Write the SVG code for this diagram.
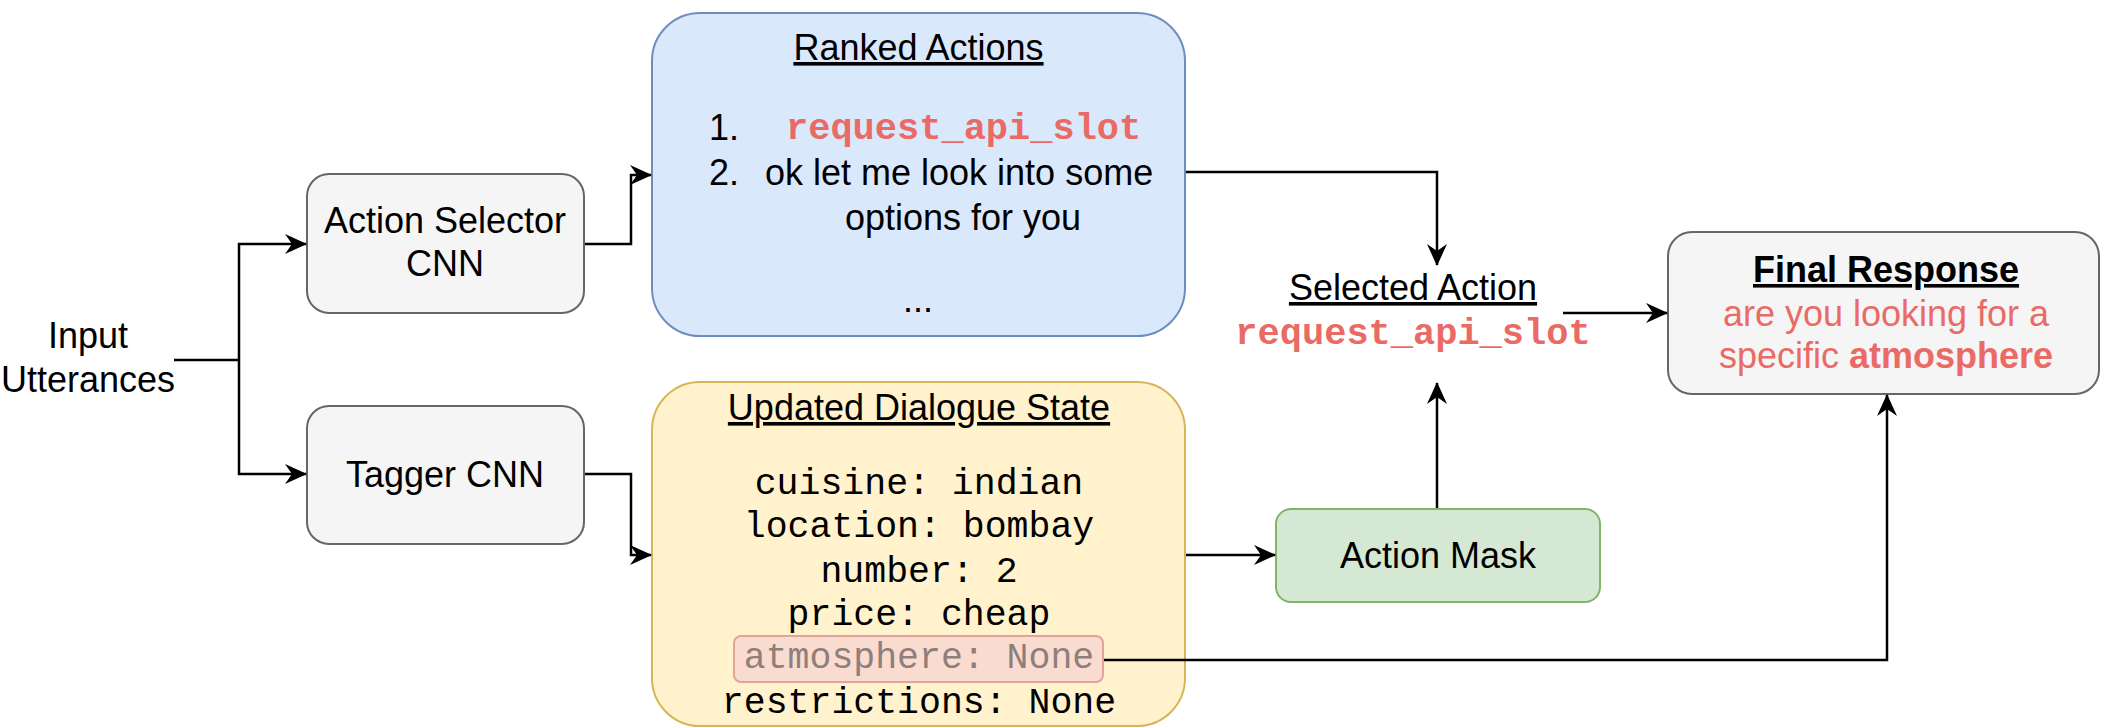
<svg xmlns="http://www.w3.org/2000/svg" width="2101" height="727" viewBox="0 0 2101 727">
  <style>
    .sans { font-family: "Liberation Sans", Arial, Helvetica, sans-serif; font-size: 36px; fill: #000; }
    .mono { font-family: "Liberation Mono", "Courier New", monospace; font-size: 36.5px; fill: #000; }
    .code { font-family: "Liberation Mono", "Courier New", monospace; font-size: 37px; font-weight: bold; fill: #EA6B66; }
    .red { fill: #EA6B66; }
    .mid { text-anchor: middle; }
    .ul { text-decoration: underline; }
    .grey { fill: #f5f5f5; stroke: #666666; stroke-width: 2; }
    .wire { fill: none; stroke: #000; stroke-width: 2.5; marker-end: url(#arrow); }
    .plain { fill: none; stroke: #000; stroke-width: 2.5; }
  </style>
  <defs>
    <marker id="arrow" viewBox="0 0 22 22" markerWidth="22" markerHeight="22" refX="21" refY="11" orient="auto" markerUnits="userSpaceOnUse">
      <path d="M0,1 L22,11 L0,21 L7,11 Z" fill="#000"/>
    </marker>
  </defs>

  <!-- input label -->
  <g id="input-utterances">
    <text class="sans mid" x="88" y="348">Input</text>
    <text class="sans mid" x="88" y="392">Utterances</text>
  </g>

  <g id="action-selector-cnn">
    <rect class="grey" x="307" y="174" width="277" height="139" rx="22"/>
    <text class="sans mid" x="445" y="233">Action Selector</text>
    <text class="sans mid" x="445" y="276">CNN</text>
  </g>

  <g id="tagger-cnn">
    <rect class="grey" x="307" y="406" width="277" height="138" rx="22"/>
    <text class="sans mid" x="445" y="487">Tagger CNN</text>
  </g>

  <g id="ranked-actions">
    <rect x="652" y="13" width="533" height="323" rx="48" fill="#dae8fc" stroke="#6c8ebf" stroke-width="2"/>
    <text class="sans mid ul" x="918.5" y="60">Ranked Actions</text>
    <text class="sans" x="709" y="140">1.</text>
    <text class="code" x="786" y="139">request_api_slot</text>
    <text class="sans" x="709" y="185">2.</text>
    <text class="sans" x="765" y="185">ok let me look into some</text>
    <text class="sans mid" x="963" y="230">options for you</text>
    <text class="sans mid" x="918" y="312">...</text>
  </g>

  <g id="dialogue-state">
    <rect x="652" y="382" width="533" height="344" rx="48" fill="#fff2cc" stroke="#d6b656" stroke-width="2"/>
    <text class="sans mid ul" x="919" y="420">Updated Dialogue State</text>
    <text class="mono mid" x="919" y="494">cuisine: indian</text>
    <text class="mono mid" x="919" y="537">location: bombay</text>
    <text class="mono mid" x="919" y="582">number: 2</text>
    <text class="mono mid" x="919" y="625">price: cheap</text>
    <g id="atmosphere-slot">
      <rect x="734" y="636" width="369" height="46" rx="7" fill="#fadbd0" stroke="#e0a49c" stroke-width="2"/>
      <text class="mono mid" x="919" y="668" style="fill:#8e7f7c">atmosphere: None</text>
    </g>
    <text class="mono mid" x="919" y="713">restrictions: None</text>
  </g>

  <g id="selected-action">
    <text class="sans mid ul" x="1413" y="300">Selected Action</text>
    <text class="code mid" x="1413" y="344">request_api_slot</text>
  </g>

  <g id="action-mask">
    <rect x="1276" y="509" width="324" height="93" rx="15" fill="#d5e8d4" stroke="#82b366" stroke-width="2"/>
    <text class="sans mid" x="1438" y="568">Action Mask</text>
  </g>

  <g id="final-response">
    <rect class="grey" x="1668" y="232" width="431" height="162" rx="24"/>
    <text class="sans mid ul" x="1886" y="282" font-weight="bold">Final Response</text>
    <text class="sans mid red" x="1886" y="326">are you looking for a</text>
    <text class="sans mid red" x="1886" y="368">specific <tspan font-weight="bold">atmosphere</tspan></text>
  </g>

  <!-- connectors, drawn over the nodes -->
  <g id="connectors">
    <polyline class="plain" points="174,360 239,360"/>
    <polyline class="wire" points="239,360 239,244 306,244"/>
    <polyline class="wire" points="239,360 239,474 306,474"/>
    <polyline class="wire" points="585,244 631,244 631,175 651,175"/>
    <polyline class="wire" points="585,474 631,474 631,555 651,555"/>
    <polyline class="wire" points="1186,172 1437,172 1437,265"/>
    <polyline class="wire" points="1186,555 1275,555"/>
    <polyline class="wire" points="1437,508 1437,383"/>
    <polyline class="wire" points="1563,313 1667,313"/>
    <polyline class="wire" points="1104,660 1887,660 1887,395"/>
  </g>
</svg>
